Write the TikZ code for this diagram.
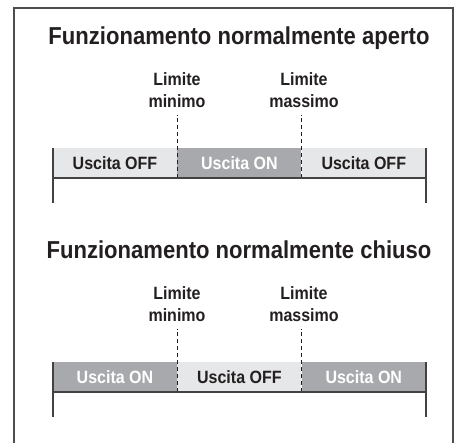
\documentclass[tikz,border=0pt]{standalone}
\usepackage{fontspec}
\setmainfont{Liberation Sans}[FakeStretch=0.9]
\usetikzlibrary{positioning}
\definecolor{testo}{HTML}{231F20}
\definecolor{chiaro}{HTML}{E6E7E8}
\definecolor{scuro}{HTML}{A7A9AC}
\definecolor{bordo}{HTML}{4D4D4F}
\tikzstyle{titolo} = [font=\bfseries\fontsize{24.5}{28}\selectfont, text=testo, inner sep=0]
\tikzstyle{limite} = [font=\bfseries\fontsize{17.8}{22}\selectfont, text=testo, align=center, inner sep=0]
\tikzstyle{uscitaoff} = [rectangle, fill=chiaro, text=testo, minimum width=124, minimum height=30, inner sep=0, font=\bfseries\fontsize{17.8}{20}\selectfont]
\tikzstyle{uscitaon} = [uscitaoff, fill=scuro, text=white]
\tikzstyle{soglia} = [dash pattern=on 4pt off 3pt, line width=1.3pt, draw=testo, shorten >=7pt]
\tikzstyle{asse} = [line width=1.5pt, draw=testo!85]

\begin{document}
\begin{tikzpicture}[x=1pt, y=-1pt]
        \useasboundingbox (0,0) rectangle (455,443);
        \draw[bordo, line width=1.5pt] (14,443) -- (14,8) -- (453,8) -- (453,443);

        % normalmente aperto
        \node (ap-titolo) [titolo, anchor=base] at (239,45) {Funzionamento normalmente aperto};
        \node (ap-min) [limite, anchor=south] at (177,108) {Limite\\minimo};
        \node (ap-max) [limite, anchor=south] at (304,108) {Limite\\massimo};
        \node (ap-sx) [uscitaoff] at (115,163) {Uscita OFF};
        \node (ap-centro) [uscitaon, right=0pt of ap-sx] {Uscita ON};
        \node (ap-dx) [uscitaoff, right=0pt of ap-centro] {Uscita OFF};
        \draw [soglia] (ap-sx.south east) -- (ap-sx.east |- ap-min.south);
        \draw [soglia] (ap-centro.south east) -- (ap-centro.east |- ap-max.south);
        \draw [asse] (ap-sx.south west) -- (ap-dx.south east);
        \draw [asse] (ap-sx.north west) -- ++(0,55);
        \draw [asse] (ap-dx.north east) -- ++(0,55);

        % normalmente chiuso
        \node (ch-titolo) [titolo, anchor=base] at (239,259) {Funzionamento normalmente chiuso};
        \node (ch-min) [limite, anchor=south] at (177,322) {Limite\\minimo};
        \node (ch-max) [limite, anchor=south] at (304,322) {Limite\\massimo};
        \node (ch-sx) [uscitaon] at (115,377) {Uscita ON};
        \node (ch-centro) [uscitaoff, right=0pt of ch-sx] {Uscita OFF};
        \node (ch-dx) [uscitaon, right=0pt of ch-centro] {Uscita ON};
        \draw [soglia] (ch-sx.south east) -- (ch-sx.east |- ch-min.south);
        \draw [soglia] (ch-centro.south east) -- (ch-centro.east |- ch-max.south);
        \draw [asse] (ch-sx.south west) -- (ch-dx.south east);
        \draw [asse] (ch-sx.north west) -- ++(0,55);
        \draw [asse] (ch-dx.north east) -- ++(0,55);
\end{tikzpicture}
\end{document}
